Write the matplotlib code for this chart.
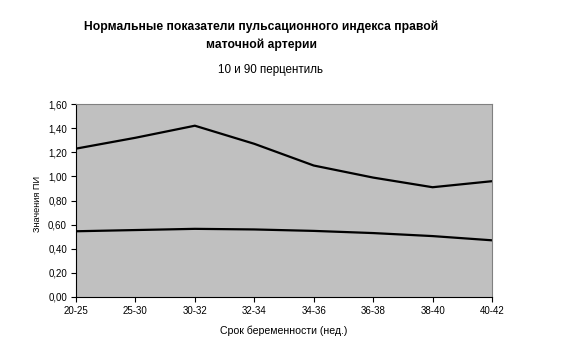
import matplotlib
matplotlib.use("Agg")
import matplotlib.pyplot as plt
from matplotlib.ticker import FuncFormatter, FixedLocator

categories = ["20-25", "25-30", "30-32", "32-34", "34-36", "36-38", "38-40", "40-42"]
p90 = [1.23, 1.32, 1.42, 1.27, 1.09, 0.99, 0.91, 0.96]
p10 = [0.545, 0.555, 0.565, 0.56, 0.548, 0.53, 0.505, 0.47]
yticks = [0.0, 0.2, 0.4, 0.6, 0.8, 1.0, 1.2, 1.4, 1.6]

plt.rcParams['font.family'] = ['Liberation Sans', 'DejaVu Sans']

W, H = 575, 362
fig = plt.figure(figsize=(W / 100, H / 100), dpi=100)
left, right, top, bottom = 76, 492, 104, 297
ax = fig.add_axes([left / W, 1 - bottom / H, (right - left) / W, (bottom - top) / H])
ax.set_facecolor("#C0C0C0")

x = list(range(len(categories)))
ax.plot(x, p90, color="black", lw=1.6, solid_joinstyle="miter")
ax.plot(x, p10, color="black", lw=1.6, solid_joinstyle="miter")

ax.set_xlim(0, len(categories) - 1)
ax.set_ylim(0, 1.6)
ax.xaxis.set_major_locator(FixedLocator(x))
ax.set_xticklabels(categories)
ax.set_yticks(yticks)
ax.yaxis.set_major_formatter(FuncFormatter(lambda v, p: f"{v:.2f}".replace(".", ",")))
ax.tick_params(axis="both", direction="out", length=3.5, width=0.8, labelsize=7, colors="black", pad=3)

for s in ["top", "right"]:
    ax.spines[s].set_color("#808080")
    ax.spines[s].set_linewidth(0.8)
for s in ["left", "bottom"]:
    ax.spines[s].set_color("black")
    ax.spines[s].set_linewidth(0.8)

fig.text(261 / W, 1 - 27 / H, "Нормальные показатели пульсационного индекса правой",
         ha="center", va="center", fontsize=8.7, fontweight="bold")
fig.text(261 / W, 1 - 45 / H, "маточной артерии",
         ha="center", va="center", fontsize=8.7, fontweight="bold")
fig.text(270 / W, 1 - 70 / H, "10 и 90 перцентиль", ha="center", va="center", fontsize=8.4)
fig.text(37 / W, 1 - 204 / H, "Значения ПИ", ha="center", va="center", rotation=90, fontsize=6.6)
fig.text(284 / W, 1 - 331 / H, "Срок беременности (нед.)", ha="center", va="center", fontsize=7.6)

fig.savefig("out.png", dpi=100)
